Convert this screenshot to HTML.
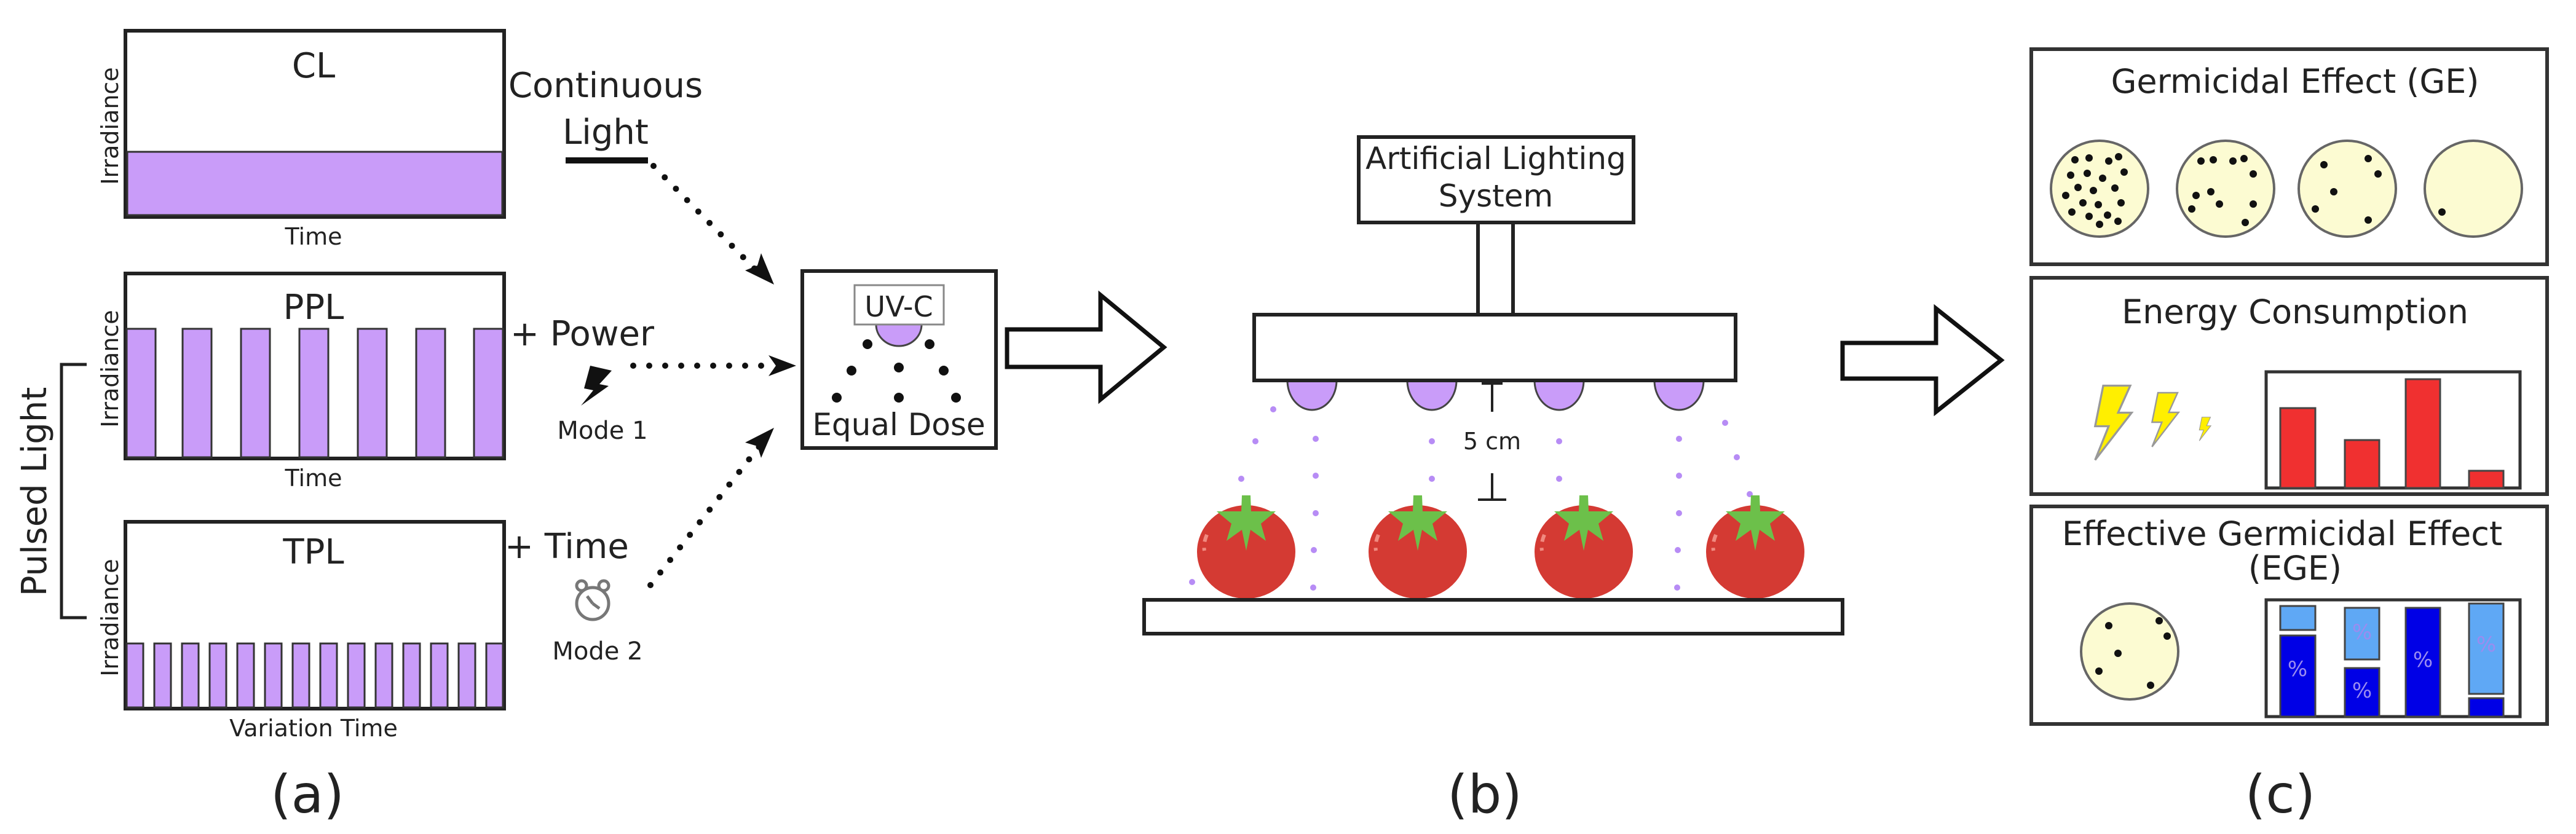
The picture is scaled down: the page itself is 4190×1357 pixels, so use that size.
<!DOCTYPE html>
<html><head><meta charset="utf-8"><style>
html,body{margin:0;padding:0;background:#fff;}
svg{display:block;}
text{font-family:"DejaVu Sans","Liberation Sans",sans-serif;fill:#222;}
</style></head><body>
<svg width="4190" height="1357" viewBox="0 0 4190 1357" xmlns="http://www.w3.org/2000/svg">
<defs>
<g id="tom">
<ellipse cx="0" cy="0" rx="80" ry="76" fill="#d43a33"/>
<path d="M-64,-28 q-6,14 -4,26" stroke="#f08a80" stroke-width="6" fill="none" stroke-dasharray="12,10"/>
<polygon points="-7,-92 7,-92 8,-66 48,-66 24,-46 32,-18 7,-36 0,-2 -7,-36 -32,-18 -24,-46 -48,-66 -8,-66" fill="#6cc04a"/>
</g>
<g id="bolt"><polygon points="-10,-55 30,-55 12,-15 32,-15 -22,55 -2,5 -22,5" fill="#ffef00" stroke="#999" stroke-width="3"/></g>
</defs>

<!-- (a) -->
<g stroke="#222" stroke-width="6" fill="none">
<rect x="204" y="50" width="616" height="303"/>
<rect x="204" y="445" width="616" height="301"/>
<rect x="204" y="849" width="616" height="304"/>
</g>
<rect x="207" y="247" width="610" height="103" fill="#c99cf9" stroke="#333" stroke-width="3"/>
<g fill="#c99cf9" stroke="#333" stroke-width="3">
<rect x="206" y="535" width="47" height="209"/><rect x="297" y="535" width="47" height="209"/>
<rect x="392" y="535" width="47" height="209"/><rect x="487" y="535" width="47" height="209"/>
<rect x="582" y="535" width="47" height="209"/><rect x="677" y="535" width="47" height="209"/>
<rect x="771" y="535" width="47" height="209"/>
<rect x="206" y="1047" width="27" height="104"/><rect x="251" y="1047" width="27" height="104"/>
<rect x="296" y="1047" width="27" height="104"/><rect x="341" y="1047" width="27" height="104"/>
<rect x="386" y="1047" width="27" height="104"/><rect x="431" y="1047" width="27" height="104"/>
<rect x="476" y="1047" width="27" height="104"/><rect x="521" y="1047" width="27" height="104"/>
<rect x="566" y="1047" width="27" height="104"/><rect x="611" y="1047" width="27" height="104"/>
<rect x="656" y="1047" width="27" height="104"/><rect x="701" y="1047" width="27" height="104"/>
<rect x="746" y="1047" width="27" height="104"/><rect x="791" y="1047" width="27" height="104"/>
</g>
<text x="510" y="126" font-size="56" text-anchor="middle">CL</text>
<text x="510" y="519" font-size="56" text-anchor="middle">PPL</text>
<text x="510" y="917" font-size="56" text-anchor="middle">TPL</text>
<text x="510" y="398" font-size="38" text-anchor="middle">Time</text>
<text x="510" y="791" font-size="38" text-anchor="middle">Time</text>
<text x="510" y="1198" font-size="38" text-anchor="middle">Variation Time</text>
<text font-size="38" text-anchor="middle" transform="translate(192,205) rotate(-90)">Irradiance</text>
<text font-size="38" text-anchor="middle" transform="translate(192,600) rotate(-90)">Irradiance</text>
<text font-size="38" text-anchor="middle" transform="translate(192,1005) rotate(-90)">Irradiance</text>
<path d="M141,593 H100 V1005 H141" stroke="#222" stroke-width="5" fill="none"/>
<text font-size="56" text-anchor="middle" transform="translate(75,800) rotate(-90)">Pulsed Light</text>

<text x="985" y="158" font-size="56" text-anchor="middle">Continuous</text>
<text x="985" y="234" font-size="56" text-anchor="middle">Light</text>
<line x1="920" y1="261" x2="1054" y2="261" stroke="#111" stroke-width="10"/>
<text x="830" y="562" font-size="56">+ Power</text>
<text x="821" y="908" font-size="56">+ Time</text>
<text x="980" y="714" font-size="40" text-anchor="middle">Mode 1</text>
<text x="972" y="1073" font-size="40" text-anchor="middle">Mode 2</text>
<polygon points="960,595 995,603 975,625 990,628 945,660 965,635 950,632" fill="#111"/>
<g stroke="#777" stroke-width="5" fill="none">
<circle cx="964" cy="982" r="26"/><line x1="964" y1="982" x2="955" y2="970"/><line x1="964" y1="982" x2="975" y2="990"/>
<circle cx="946" cy="953" r="8"/><circle cx="982" cy="953" r="8"/>
</g>
<g stroke="#111" stroke-width="10" stroke-linecap="round" stroke-dasharray="0,26" fill="none">
<line x1="1063" y1="270" x2="1230" y2="440"/>
<line x1="1030" y1="595" x2="1260" y2="595"/>
<line x1="1058" y1="952" x2="1236" y2="725"/>
</g>
<polygon points="1259,463 1212,440 1232,432 1238,412" fill="#111"/>
<polygon points="1295,595 1250,578 1262,595 1250,612" fill="#111"/>
<polygon points="1259,696 1238,745 1232,726 1212,720" fill="#111"/>
<text x="500" y="1322" font-size="86" text-anchor="middle">(a)</text>

<!-- Equal dose -->
<rect x="1305" y="441" width="315" height="288" fill="none" stroke="#222" stroke-width="6"/>
<path d="M1425,528 A37,35 0 0 0 1499,528 Z" fill="#c99cf9" stroke="#444" stroke-width="3"/>
<rect x="1390" y="464" width="145" height="64" fill="#fff" stroke="#888" stroke-width="3"/>
<text x="1462" y="515" font-size="46" text-anchor="middle">UV-C</text>
<g fill="#111"><circle cx="1411" cy="560" r="8"/><circle cx="1512" cy="560" r="8"/>
<circle cx="1385" cy="603" r="8"/><circle cx="1462" cy="598" r="8"/><circle cx="1535" cy="603" r="8"/>
<circle cx="1361" cy="647" r="8"/><circle cx="1462" cy="647" r="8"/><circle cx="1555" cy="647" r="8"/></g>
<text x="1462" y="708" font-size="50" text-anchor="middle">Equal Dose</text>
<polygon points="1638,536 1790,536 1790,480 1893,565 1790,650 1790,597 1638,597" fill="#fff" stroke="#111" stroke-width="7"/>

<!-- (b) -->
<rect x="2210" y="223" width="447" height="139" fill="#fff" stroke="#222" stroke-width="6"/>
<text x="2433" y="275" font-size="50" text-anchor="middle">Artificial Lighting</text>
<text x="2433" y="336" font-size="50" text-anchor="middle">System</text>
<rect x="2404" y="362" width="57" height="150" fill="#fff" stroke="#222" stroke-width="6"/>
<g fill="#c99cf9" stroke="#444" stroke-width="3">
<path d="M2094,619 A40,48 0 0 0 2174,619 Z"/><path d="M2289,619 A40,48 0 0 0 2369,619 Z"/>
<path d="M2496,619 A40,48 0 0 0 2576,619 Z"/><path d="M2691,619 A40,48 0 0 0 2771,619 Z"/>
</g>
<rect x="2040" y="512" width="783" height="107" fill="#fff" stroke="#222" stroke-width="6"/>
<g stroke="#222" stroke-width="4"><line x1="2427" y1="622" x2="2427" y2="670"/><line x1="2410" y1="624" x2="2444" y2="624"/>
<line x1="2427" y1="770" x2="2427" y2="813"/><line x1="2404" y1="813" x2="2450" y2="813"/></g>
<text x="2427" y="731" font-size="38" text-anchor="middle">5 cm</text>
<g fill="#b78cf5">
<circle cx="2071" cy="666" r="5"/><circle cx="2042" cy="718" r="5"/><circle cx="2019" cy="779" r="5"/><circle cx="1939" cy="947" r="5"/>
<circle cx="2140" cy="714" r="5"/><circle cx="2140" cy="774" r="5"/><circle cx="2140" cy="835" r="5"/><circle cx="2137" cy="895" r="5"/><circle cx="2136" cy="956" r="5"/>
<circle cx="2329" cy="718" r="5"/><circle cx="2329" cy="779" r="5"/>
<circle cx="2536" cy="718" r="5"/><circle cx="2536" cy="779" r="5"/>
<circle cx="2731" cy="714" r="5"/><circle cx="2731" cy="774" r="5"/><circle cx="2731" cy="835" r="5"/><circle cx="2729" cy="895" r="5"/><circle cx="2728" cy="956" r="5"/>
<circle cx="2806" cy="688" r="5"/><circle cx="2825" cy="744" r="5"/><circle cx="2846" cy="804" r="5"/>
</g>
<use href="#tom" x="2027" y="898"/><use href="#tom" x="2306" y="898"/>
<use href="#tom" x="2576" y="898"/><use href="#tom" x="2855" y="898"/>
<rect x="1861" y="976" width="1136" height="55" fill="#fff" stroke="#222" stroke-width="6"/>
<text x="2415" y="1322" font-size="86" text-anchor="middle">(b)</text>
<polygon points="2997,558 3149,558 3149,502 3255,586 3149,670 3149,616 2997,616" fill="#fff" stroke="#111" stroke-width="7"/>

<!-- (c) -->
<g fill="#fff" stroke="#333" stroke-width="6">
<rect x="3304" y="80" width="839" height="350"/>
<rect x="3304" y="452" width="839" height="352"/>
<rect x="3304" y="824" width="839" height="354"/>
</g>
<text x="3733" y="151" font-size="54" text-anchor="middle">Germicidal Effect (GE)</text>
<text x="3733" y="526" font-size="54" text-anchor="middle">Energy Consumption</text>
<text x="3712" y="887" font-size="54" text-anchor="middle">Effective Germicidal Effect</text>
<text x="3733" y="943" font-size="54" text-anchor="middle">(EGE)</text>
<g fill="#fcfbd2" stroke="#666" stroke-width="4">
<ellipse cx="3415" cy="307" rx="79" ry="78"/><ellipse cx="3620" cy="307" rx="79" ry="78"/>
<ellipse cx="3818" cy="307" rx="79" ry="78"/><ellipse cx="4023" cy="307" rx="79" ry="78"/>
<ellipse cx="3464" cy="1060" rx="79" ry="78"/>
</g>
<g fill="#111">
<circle cx="3375" cy="260" r="6"/><circle cx="3398" cy="257" r="6"/><circle cx="3430" cy="262" r="6"/><circle cx="3446" cy="255" r="6"/>
<circle cx="3368" cy="285" r="6"/><circle cx="3395" cy="282" r="6"/><circle cx="3420" cy="290" r="6"/><circle cx="3455" cy="280" r="6"/>
<circle cx="3380" cy="305" r="6"/><circle cx="3405" cy="310" r="6"/><circle cx="3440" cy="306" r="6"/><circle cx="3360" cy="318" r="6"/>
<circle cx="3388" cy="330" r="6"/><circle cx="3413" cy="333" r="6"/><circle cx="3450" cy="330" r="6"/><circle cx="3370" cy="345" r="6"/>
<circle cx="3398" cy="352" r="6"/><circle cx="3428" cy="350" r="6"/><circle cx="3445" cy="360" r="6"/><circle cx="3415" cy="365" r="6"/>
<circle cx="3580" cy="262" r="6"/><circle cx="3600" cy="260" r="6"/><circle cx="3632" cy="262" r="6"/><circle cx="3650" cy="258" r="6"/><circle cx="3665" cy="283" r="6"/>
<circle cx="3572" cy="318" r="6"/><circle cx="3596" cy="312" r="6"/><circle cx="3610" cy="332" r="6"/><circle cx="3565" cy="340" r="6"/><circle cx="3665" cy="332" r="6"/><circle cx="3652" cy="362" r="6"/>
<circle cx="3780" cy="268" r="6"/><circle cx="3852" cy="258" r="6"/><circle cx="3868" cy="283" r="6"/><circle cx="3796" cy="312" r="6"/><circle cx="3766" cy="340" r="6"/><circle cx="3852" cy="358" r="6"/>
<circle cx="3972" cy="345" r="6"/>
<circle cx="3430" cy="1018" r="6"/><circle cx="3512" cy="1010" r="6"/><circle cx="3525" cy="1035" r="6"/><circle cx="3445" cy="1063" r="6"/><circle cx="3414" cy="1092" r="6"/><circle cx="3498" cy="1115" r="6"/>
</g>
<use href="#bolt" transform="translate(3432,688) scale(1.1)"/>
<use href="#bolt" transform="translate(3518,683) scale(0.8)"/>
<use href="#bolt" transform="translate(3585,698) scale(0.35)"/>
<rect x="3686" y="605" width="413" height="189" fill="#fff" stroke="#333" stroke-width="5"/>
<g fill="#f03030" stroke="#444" stroke-width="3">
<rect x="3709" y="664" width="57" height="130"/><rect x="3814" y="716" width="56" height="78"/>
<rect x="3913" y="617" width="56" height="177"/><rect x="4016" y="766" width="56" height="28"/>
</g>
<rect x="3686" y="976" width="413" height="190" fill="#fff" stroke="#333" stroke-width="5"/>
<g stroke="#444" stroke-width="3">
<rect x="3709" y="986" width="57" height="39" fill="#5fa8f5"/><rect x="3709" y="1034" width="57" height="132" fill="#0000e6"/>
<rect x="3814" y="989" width="56" height="84" fill="#5fa8f5"/><rect x="3814" y="1087" width="56" height="79" fill="#0000e6"/>
<rect x="3913" y="989" width="56" height="177" fill="#0000e6"/>
<rect x="4016" y="982" width="56" height="147" fill="#5fa8f5"/><rect x="4016" y="1136" width="56" height="30" fill="#0000e6"/>
</g>
<g font-size="34" text-anchor="middle">
<text x="3737" y="1100" style="fill:#9a8cf0">%</text><text x="3842" y="1040" style="fill:#9a8cf0">%</text>
<text x="3842" y="1135" style="fill:#9a8cf0">%</text><text x="3941" y="1085" style="fill:#9a8cf0">%</text>
<text x="4044" y="1060" style="fill:#9a8cf0">%</text>
</g>
<text x="3709" y="1322" font-size="86" text-anchor="middle">(c)</text>
</svg>
</body></html>
